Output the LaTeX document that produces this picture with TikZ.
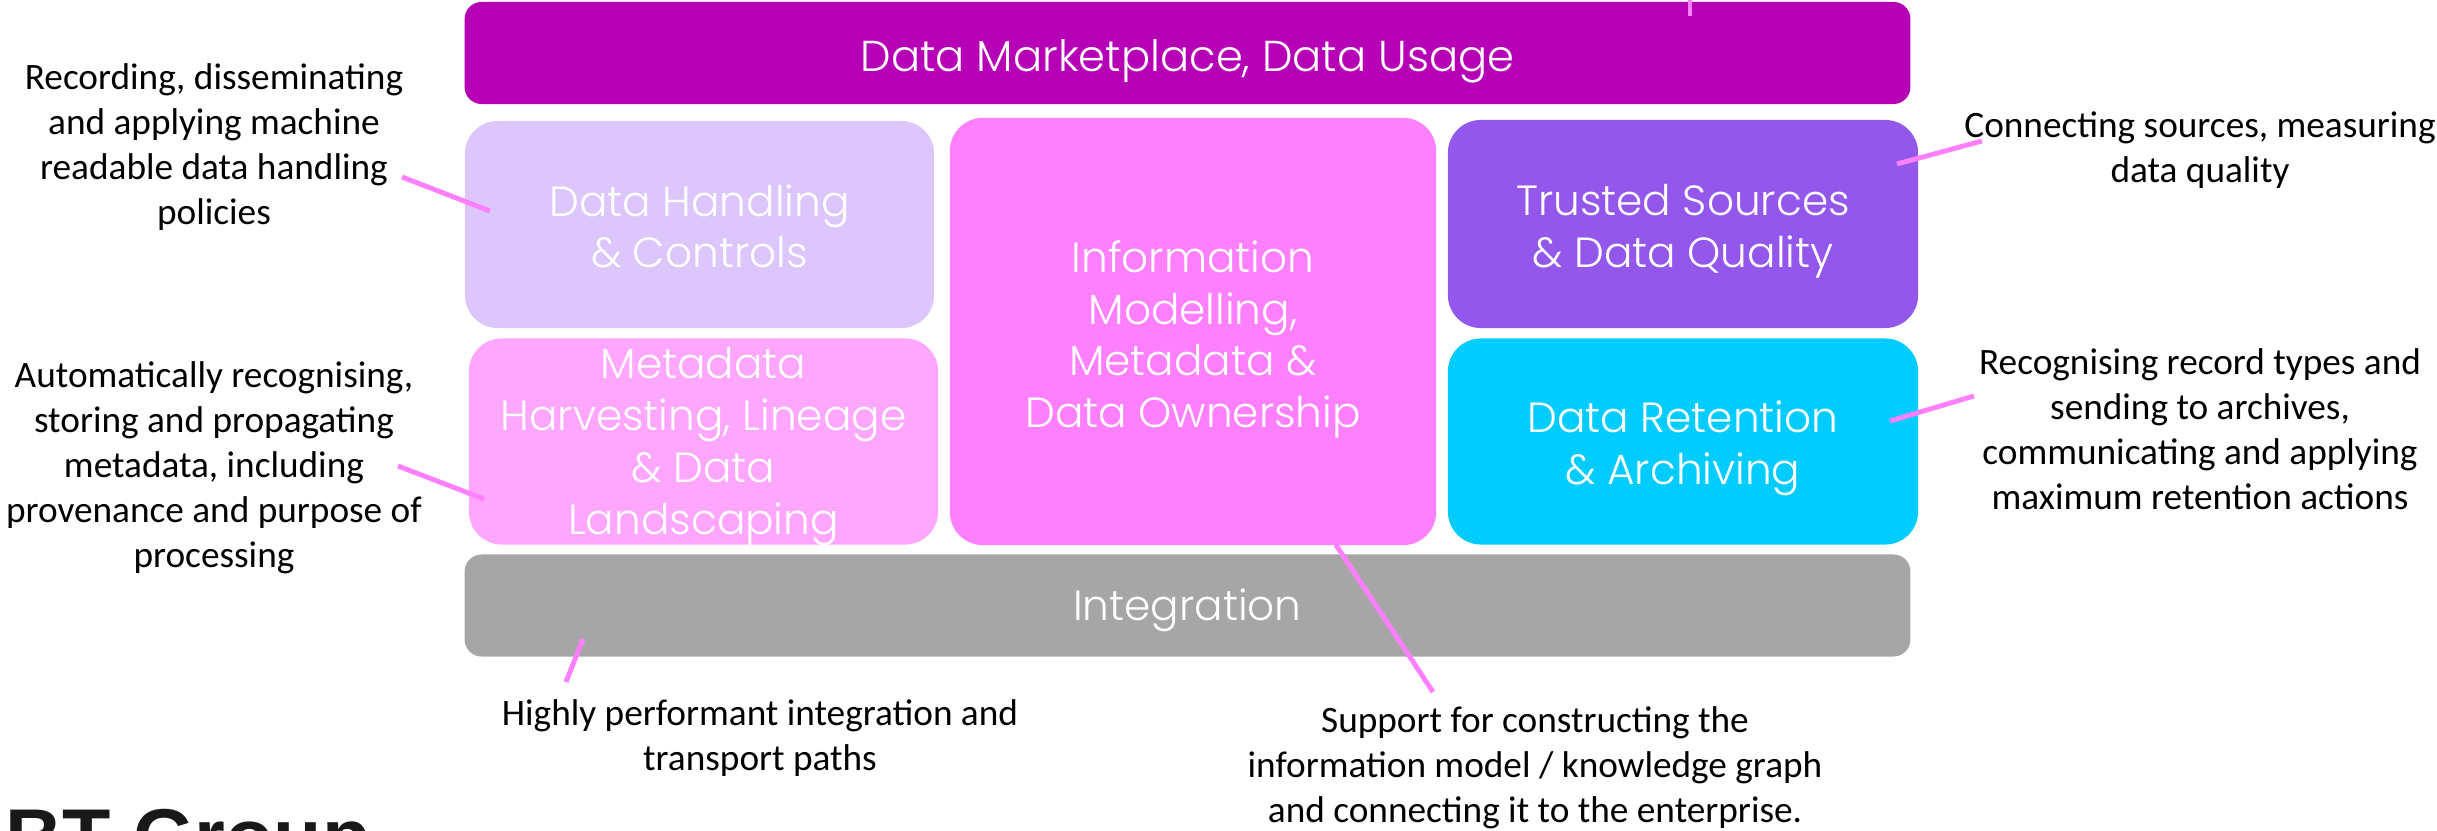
\documentclass[tikz,border=0pt]{standalone}
\usepackage{fontspec}
\setmainfont{Carlito}
\newfontfamily\gothicfont{Poppins Light}
\newfontfamily\logofont{Liberation Sans}[Scale=1]
\definecolor{marketcol}{HTML}{B500B5}
\definecolor{handlingcol}{HTML}{DCC6FB}
\definecolor{harvestcol}{HTML}{FFA6FF}
\definecolor{modelcol}{HTML}{FF80FF}
\definecolor{trustedcol}{HTML}{9457EB}
\definecolor{retentioncol}{HTML}{00CCFF}
\definecolor{integrationcol}{HTML}{A6A6A6}
\begin{document}
\begin{tikzpicture}[x=0.01cm,y=-0.01cm,
    panel/.style={rounded corners=0.33cm,inner sep=0pt},
    bar/.style={panel,rounded corners=0.17cm,minimum width=14.45cm,minimum height=1.02cm},
    caption/.style={inner sep=0pt,text=white,align=center,
        font=\gothicfont\fontsize{12}{14.7}\selectfont},
    note/.style={align=center,text=black,inner sep=0pt,font=\fontsize{10.6}{12.8}\selectfont},
    callout/.style={draw=modelcol,line width=1.4pt}]
    \useasboundingbox (0,0) rectangle (2437,831);
    \node [bar,fill=marketcol] (market) at (1187.5,53) {};
    \node [bar,fill=integrationcol] (integration) at (1187.5,605.5) {};
    \node [panel,fill=handlingcol,minimum width=4.69cm,minimum height=2.07cm] (handling) at (699.5,224.5) {};
    \node [panel,fill=harvestcol,minimum width=4.69cm,minimum height=2.06cm] (harvest) at (703.5,441.5) {};
    \node [panel,fill=modelcol,minimum width=4.86cm,minimum height=4.27cm] (model) at (1193,331.5) {};
    \node [panel,fill=trustedcol,minimum width=4.70cm,minimum height=2.08cm] (trusted) at (1683,224) {};
    \node [panel,fill=retentioncol,minimum width=4.70cm,minimum height=2.06cm] (retention) at (1683,441.5) {};
    \node [caption,font=\gothicfont\fontsize{12.3}{14.7}\selectfont] (markettext) at ([yshift=-0.08cm]market.center) {Data Marketplace, Data Usage};
    \node [caption] (integrationtext) at ([yshift=-0.05cm]integration.center) {Integration};
    \node [caption] (handlingtext) at ([yshift=-0.02cm]handling.center) {Data Handling\\\& Controls};
    \node [caption] (harvesttext) at ([yshift=-0.05cm]harvest.center) {Metadata\\Harvesting, Lineage\\\& Data\\Landscaping};
    \node [caption] (modeltext) at ([yshift=-0.08cm]model.center) {Information\\Modelling,\\Metadata \&\\Data Ownership};
    \node [caption] (trustedtext) at ([yshift=-0.07cm]trusted.center) {Trusted Sources\\\& Data Quality};
    \node [caption] (retentiontext) at ([yshift=-0.07cm]retention.center) {Data Retention\\\& Archiving};
    \node [note] (handlingnote) at (214,147) {Recording, disseminating\\and applying machine\\readable data handling\\policies};
    \node [note] (harvestnote) at (214,468) {Automatically recognising,\\storing and propagating\\metadata, including\\provenance and purpose of\\processing};
    \node [note] (trustednote) at (2200,150) {Connecting sources, measuring\\data quality};
    \node [note] (retentionnote) at (2200,429) {Recognising record types and\\sending to archives,\\communicating and applying\\maximum retention actions};
    \node [note] (integrationnote) at (760,738) {Highly performant integration and\\transport paths};
    \node [note] (modelnote) at (1535,768) {Support for constructing the\\information model / knowledge graph\\and connecting it to the enterprise.};
    \node [anchor=base west,inner sep=0pt,text=black!90,font=\logofont\bfseries\fontsize{22.5}{24}\selectfont] (logo) at (5,864) {BT Group};
    \coordinate (marketend) at (1690,16);
    \coordinate (marketfree) at (1690,0);
    \coordinate (handlingend) at (490,211);
    \coordinate (handlingfree) at (402,177);
    \coordinate (harvestend) at (484,499);
    \coordinate (harvestfree) at (398,466);
    \coordinate (trustedend) at (1897,164);
    \coordinate (trustedfree) at (1982,141);
    \coordinate (retentionend) at (1890,421);
    \coordinate (retentionfree) at (1974,396);
    \coordinate (integrationend) at (583,639);
    \coordinate (integrationfree) at (566,682);
    \coordinate (modelend) at (1336,545);
    \coordinate (modelfree) at (1433,692);
    \draw [callout] (marketfree) -- (marketend);
    \draw [callout] (handlingfree) -- (handlingend);
    \draw [callout] (harvestfree) -- (harvestend);
    \draw [callout] (trustedfree) -- (trustedend);
    \draw [callout] (retentionfree) -- (retentionend);
    \draw [callout] (integrationfree) -- (integrationend);
    \draw [callout] (modelfree) -- (modelend);
\end{tikzpicture}
\end{document}
